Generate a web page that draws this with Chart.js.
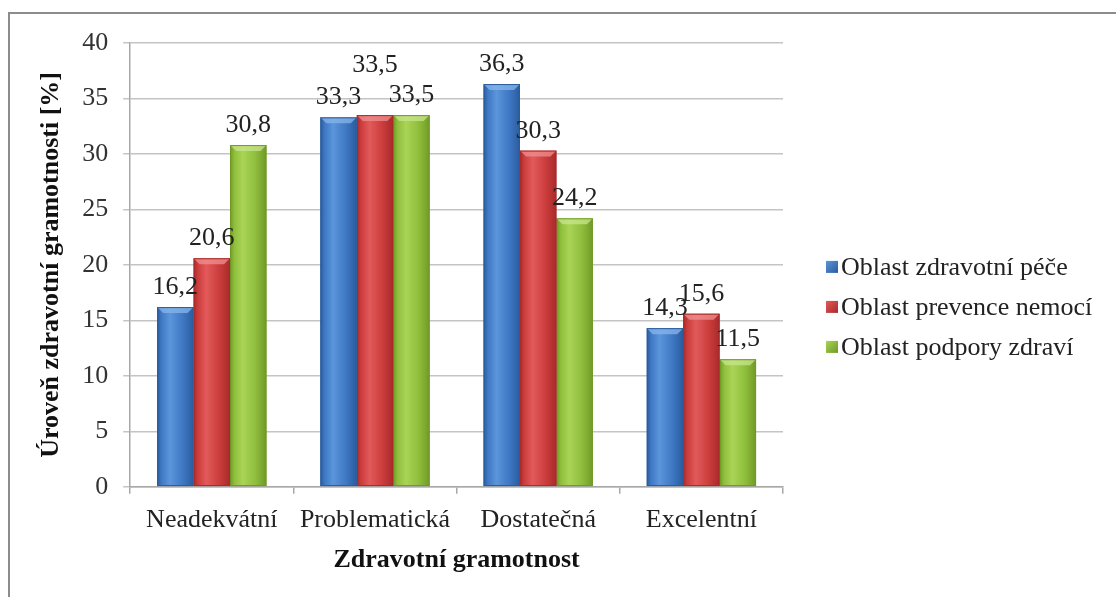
<!DOCTYPE html>
<html>
<head>
<meta charset="utf-8">
<script src="https://cdn.jsdelivr.net/npm/chart.js@4.4.1/dist/chart.umd.min.js"></script>
<style>
  html, body { margin: 0; padding: 0; background: #fff; }
  #wrap { position: relative; width: 1116px; height: 597px; overflow: hidden; }
  #frame { position: absolute; left: 8px; top: 12px; right: -4px; bottom: -4px;
           border-left: 2px solid #8c8c8c; border-top: 2px solid #8c8c8c; }
  canvas { position: absolute; left: 0; top: 0; }
</style>
</head>
<body>
<div id="wrap">
  <div id="frame"></div>
  <canvas id="chart" width="1116" height="597"></canvas>
</div>
<script>
// Categories and series
const categories = ['Neadekvátní', 'Problematická', 'Dostatečná', 'Excelentní'];
const seriesNames = ['Oblast zdravotní péče', 'Oblast prevence nemocí', 'Oblast podpory zdraví'];
const pece = [16.2, 33.3, 36.3, 14.3];
const prevence = [20.6, 33.5, 30.3, 15.6];
const podpora = [30.8, 33.5, 24.2, 11.5];
const yTicks = [0, 5, 10, 15, 20, 25, 30, 35, 40];

const FONT = '"Liberation Serif", "Times New Roman", serif';
const FS = 26;

// Shading palette per series: edge, light, mid, top bevel
const palette = [
  { edge: '#2a5c9e', light: '#5b95da', mid: '#3f78c4', top: '#8ab6ea' },
  { edge: '#a82a2a', light: '#e25a5a', mid: '#cc3d3d', top: '#f09090' },
  { edge: '#6f9a26', light: '#aad456', mid: '#8fbe3c', top: '#c8e68c' }
];

const fmt = v => v.toFixed(1).replace('.', ',');

// Bevelled, gradient-filled bars drawn from the bar elements' geometry
const bevelBars = {
  id: 'bevelBars',
  beforeDatasetDraw(chart, args) {
    const ctx = chart.ctx;
    const p = palette[args.index];
    ctx.save();
    args.meta.data.forEach(el => {
      const { x, y, base, width } = el.getProps(['x', 'y', 'base', 'width'], true);
      const l = x - width / 2, r = x + width / 2;
      const g = ctx.createLinearGradient(l, 0, r, 0);
      g.addColorStop(0, p.edge);
      g.addColorStop(0.12, p.mid);
      g.addColorStop(0.35, p.light);
      g.addColorStop(0.7, p.mid);
      g.addColorStop(1, p.edge);
      ctx.fillStyle = g;
      ctx.fillRect(l, y, width, base - y);
      // top chamfer
      const b = Math.min(6, (base - y) / 2);
      ctx.beginPath();
      ctx.moveTo(l, y);
      ctx.lineTo(r, y);
      ctx.lineTo(r - b, y + b);
      ctx.lineTo(l + b, y + b);
      ctx.closePath();
      ctx.fillStyle = p.top;
      ctx.globalAlpha = 0.75;
      ctx.fill();
      ctx.globalAlpha = 1;
      ctx.strokeStyle = p.edge;
      ctx.lineWidth = 1;
      ctx.strokeRect(l + 0.5, y + 0.5, width - 1, base - y - 1);
    });
    ctx.restore();
    return false;
  }
};

// Value labels above bars; a label that would collide with its left neighbour is lifted
const valueLabels = {
  id: 'valueLabels',
  afterDatasetsDraw(chart) {
    const ctx = chart.ctx;
    ctx.save();
    ctx.font = FS + 'px ' + FONT;
    ctx.fillStyle = '#222';
    ctx.textAlign = 'center';
    ctx.textBaseline = 'alphabetic';
    const placed = [];
    categories.forEach((c, i) => {
      chart.data.datasets.forEach((ds, d) => {
        const el = chart.getDatasetMeta(d).data[i];
        const txt = fmt(ds.data[i]);
        const w = ctx.measureText(txt).width;
        let by = el.y - 13;
        for (const q of placed) {
          if (q.i === i && Math.abs(q.x - el.x) < (w + q.w) / 2 + 2 && Math.abs(q.y - by) < 8) {
            by -= 30;
          }
        }
        placed.push({ i, x: el.x, y: by, w });
        ctx.fillText(txt, el.x, by);
      });
    });
    ctx.restore();
  }
};

// Legend block to the right of the plot
const sideLegend = {
  id: 'sideLegend',
  afterDraw(chart) {
    const ctx = chart.ctx;
    const area = chart.chartArea;
    const x0 = area.right + 43;
    const step = 40;
    const yc = (area.top + area.bottom) / 2 + 42;
    ctx.save();
    ctx.font = FS + 'px ' + FONT;
    ctx.textBaseline = 'middle';
    ctx.textAlign = 'left';
    seriesNames.forEach((name, k) => {
      const y = yc + (k - 1) * step;
      const p = palette[k];
      const g = ctx.createLinearGradient(x0, y - 6, x0 + 12, y + 6);
      g.addColorStop(0, p.light);
      g.addColorStop(1, p.edge);
      ctx.fillStyle = g;
      ctx.fillRect(x0, y - 6, 12, 12);
      ctx.fillStyle = '#222';
      ctx.fillText(name, x0 + 15, y + 1);
    });
    ctx.restore();
  }
};

new Chart(document.getElementById('chart'), {
  type: 'bar',
  data: {
    labels: categories,
    datasets: [
      { label: seriesNames[0], data: pece, backgroundColor: palette[0].mid },
      { label: seriesNames[1], data: prevence, backgroundColor: palette[1].mid },
      { label: seriesNames[2], data: podpora, backgroundColor: palette[2].mid }
    ]
  },
  options: {
    responsive: false,
    animation: false,
    events: [],
    categoryPercentage: 0.67,
    barPercentage: 1,
    layout: { padding: { left: 36, top: 43, right: 333, bottom: 20 } },
    plugins: { legend: { display: false }, tooltip: { enabled: false } },
    scales: {
      x: {
        grid: { offset: true, drawOnChartArea: false, color: '#a8a8a8', lineWidth: 1.5, tickLength: 7 },
        border: { color: '#a8a8a8', width: 1.5 },
        ticks: { color: '#222', font: { family: FONT, size: FS }, padding: 11 },
        title: { display: true, text: 'Zdravotní gramotnost', color: '#111',
                 font: { family: FONT, size: FS, weight: 'bold', lineHeight: 1.0 }, padding: { top: 0 } }
      },
      y: {
        min: 0, max: 40,
        afterBuildTicks(scale) { scale.ticks = yTicks.map(v => ({ value: v })); },
        grid: { color: '#c4c4c4', lineWidth: 1.5, tickLength: 7 },
        border: { color: '#a8a8a8', width: 1.5 },
        ticks: { color: '#333', font: { family: FONT, size: FS }, padding: 15 },
        title: { display: true, text: 'Úroveň zdravotní gramotnosti [%]', color: '#111',
                 font: { family: FONT, size: FS, weight: 'bold' }, padding: { top: 0, bottom: 0 } }
      }
    }
  },
  plugins: [bevelBars, valueLabels, sideLegend]
});
</script>
</body>
</html>
